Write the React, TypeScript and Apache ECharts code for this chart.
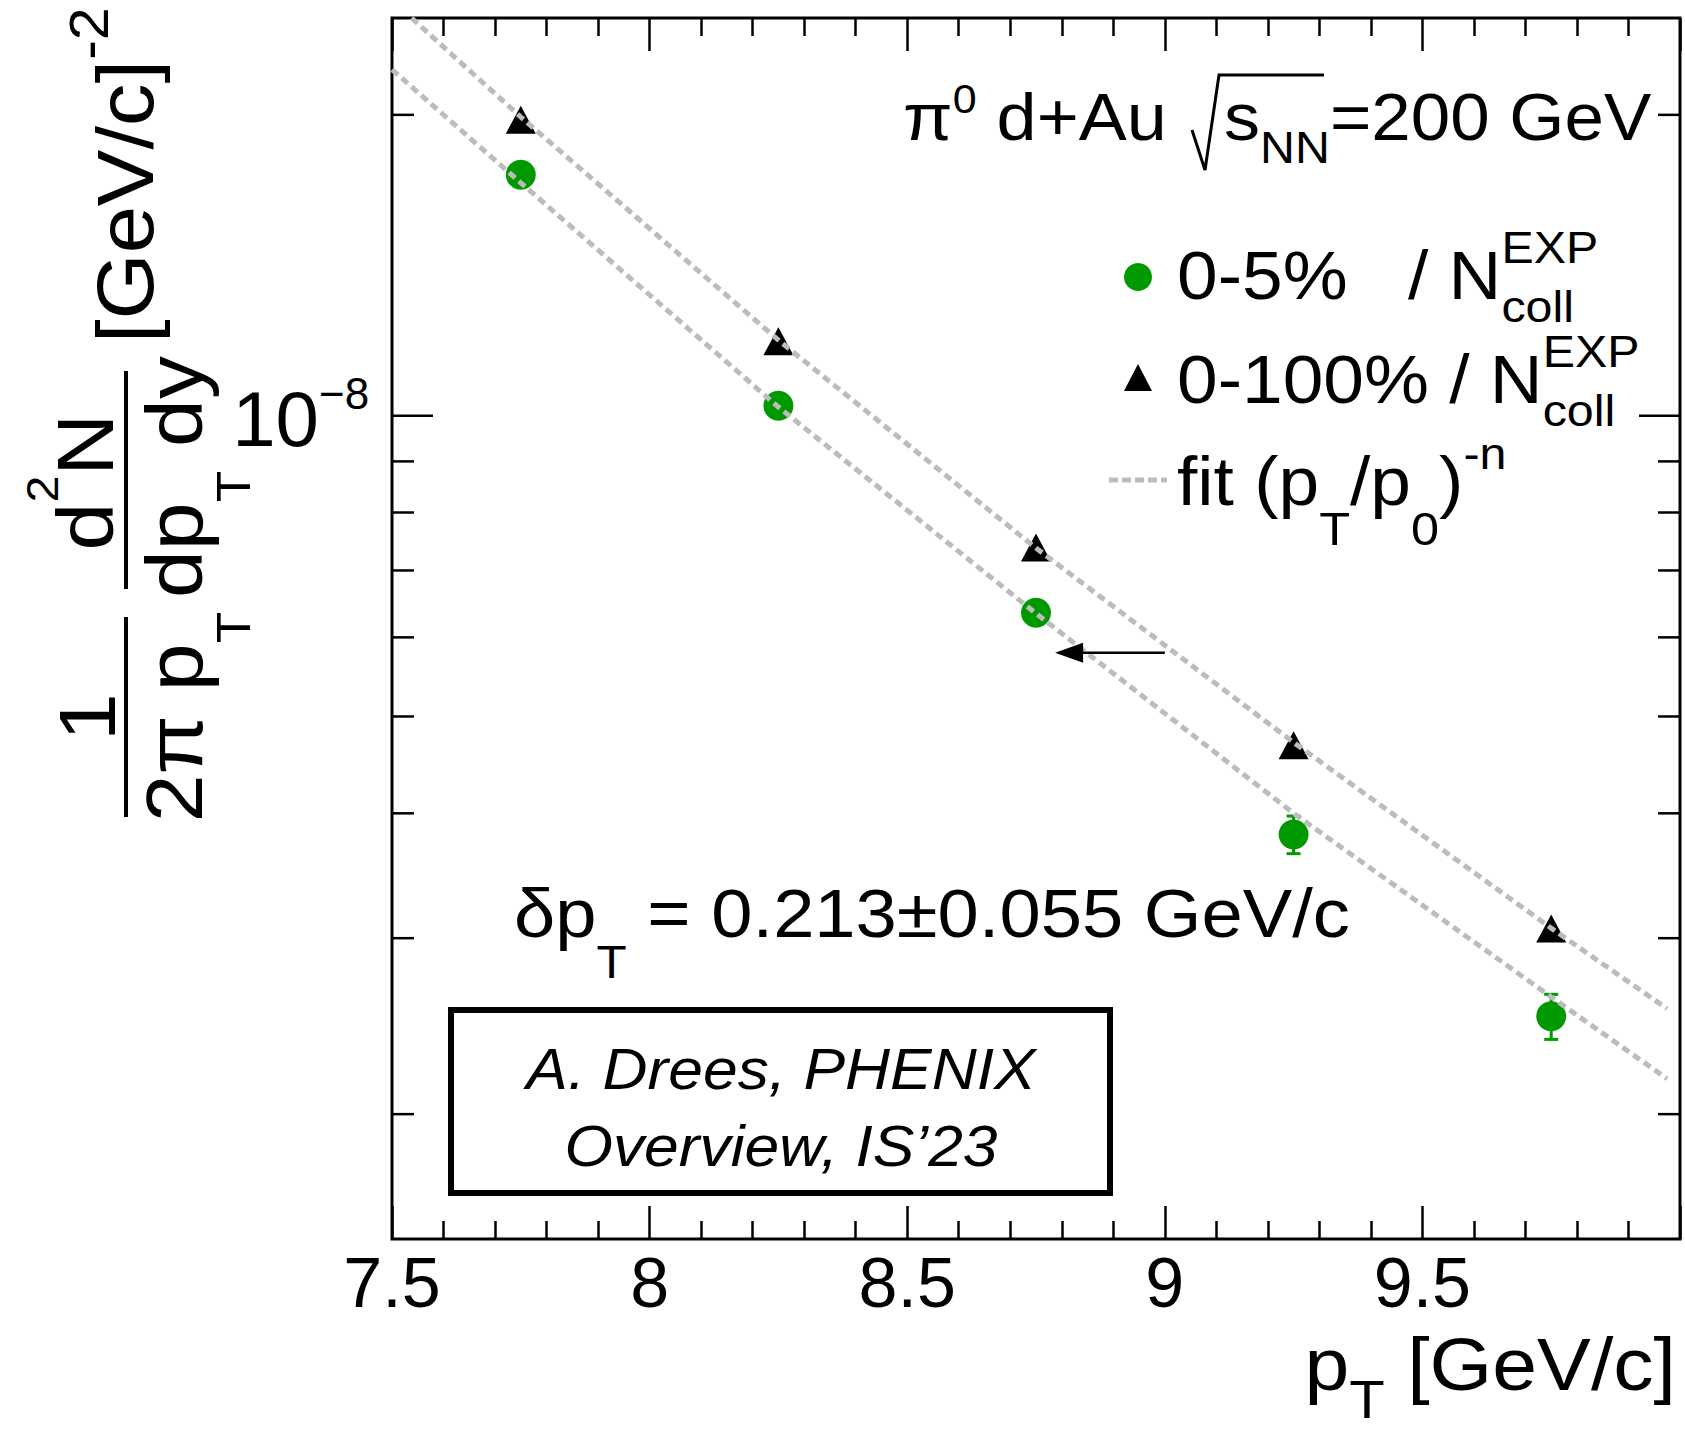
import React, { useEffect, useRef } from 'react';
import * as echarts from 'echarts';

const FONT = '"Liberation Sans", Arial, Helvetica, sans-serif';
const GREEN = '#009900';
const FIT_GRAY = '#bcbcbc';

// axes
const X_MIN = 7.5;
const X_MAX = 10;
const X_STEP = 0.5;
const Y_MIN = 1.5e-9;
const Y_MAX = 2.5e-8;
const yMajorTicks = [1e-8];
const yMinorTicks = [2e-8, 9e-9, 8e-9, 7e-9, 6e-9, 5e-9, 4e-9, 3e-9, 2e-9];

// data
const pT = [7.75, 8.25, 8.75, 9.25, 9.75];
const central = [1.742e-8, 1.023e-8, 6.35e-9, 3.81e-9, 2.506e-9]; // 0-5 %
const centralErr = [0.02e-8, 0.012e-8, 0.08e-9, 0.165e-9, 0.13e-9];
const minBias = [1.978e-8, 1.187e-8, 7.38e-9, 4.68e-9, 3.067e-9]; // 0-100 %

// fit curves
const fitMinBiasX = [7.538, 7.75, 8.25, 8.75, 9.25, 9.75, 9.975];
const fitMinBiasY = [2.5e-8, 1.99e-8, 1.19e-8, 7.37e-9, 4.71e-9, 3.07e-9, 2.55e-9];
const fitCentralX = [7.5, 7.75, 8.25, 8.75, 9.25, 9.75, 9.975];
const fitCentralY = [2.22e-8, 1.71e-8, 1.02e-8, 6.34e-9, 4.0e-9, 2.62e-9, 2.17e-9];

// shift arrow
const arrowTailX = 9.0;
const arrowTipX = 8.787;
const arrowY = 5.79e-9;

const SX = 1.075;
let _ctx: CanvasRenderingContext2D | null = null;
function tw(t: string, size: number, italic = false) {
  if (!_ctx) _ctx = document.createElement('canvas').getContext('2d');
  _ctx!.font = `${italic ? 'italic ' : ''}${size}px ${FONT}`;
  return _ctx!.measureText(t).width;
}

type Piece = { t: string; s: number; dy?: number; stack?: boolean; italic?: boolean };
function run(pieces: Piece[], x0: number, base: number, align: 'left' | 'center' | 'right' = 'left', sx = SX) {
  const pos: number[] = [];
  let x = 0;
  let stackW = 0;
  for (const p of pieces) {
    const w = tw(p.t, p.s, p.italic) * sx;
    pos.push(x);
    if (p.stack) stackW = w;
    else {
      x += Math.max(w, stackW);
      stackW = 0;
    }
  }
  const total = x;
  const start = align === 'left' ? x0 : align === 'center' ? x0 - total / 2 : x0 - total;
  return pieces.map((p, i) => {
    const trimmed = p.t.replace(/^\s+/, '');
    const lead = p.t.length - trimmed.length;
    const off = lead ? tw(p.t.slice(0, lead), p.s, p.italic) * sx : 0;
    return {
      type: 'text',
      x: start + pos[i] + off,
      y: base + (p.dy || 0) - 0.3467 * p.s,
      scaleX: sx,
      silent: true,
      z: 20,
      style: {
        text: trimmed,
        fontSize: p.s,
        fontFamily: FONT,
        fontStyle: p.italic ? 'italic' : 'normal',
        fill: '#000',
        align: 'left',
        verticalAlign: 'middle',
      },
    };
  });
}

function buildGraphic() {
  const g: any[] = [];
  // title
  g.push(...run([{ t: 'π', s: 67 }, { t: '0', s: 40, dy: -27 }, { t: ' d+Au', s: 67 }], 903, 140));
  g.push({
    type: 'polyline',
    z: 20,
    shape: { points: [[1192, 130], [1205, 170], [1219, 75], [1324, 75]] },
    style: { stroke: '#000', lineWidth: 3, fill: 'none' },
  });
  g.push(...run([{ t: 's', s: 67 }, { t: 'NN', s: 45, dy: 23 }, { t: '=200 GeV', s: 66 }], 1224, 140));

  // legend
  g.push({ type: 'circle', z: 20, shape: { cx: 1138, cy: 277, r: 14 }, style: { fill: GREEN } });
  g.push({ type: 'polygon', z: 20, shape: { points: [[1138, 364], [1124, 391], [1152, 391]] }, style: { fill: '#000' } });
  g.push({
    type: 'line', z: 20,
    shape: { x1: 1109, y1: 480, x2: 1167, y2: 480 },
    style: { stroke: FIT_GRAY, lineWidth: 5, lineDash: [9, 4] },
  });
  g.push(...run([{ t: '0-5%', s: 68 }], 1177, 299));
  g.push(...run([{ t: '/ N', s: 68 }, { t: 'EXP', s: 45, dy: -36, stack: true }, { t: 'coll', s: 45, dy: 23 }], 1408, 299));
  g.push(...run([{ t: '0-100% / N', s: 68 }, { t: 'EXP', s: 45, dy: -36, stack: true }, { t: 'coll', s: 45, dy: 23 }], 1177, 403));
  g.push(...run([
    { t: 'fit (p', s: 68 }, { t: 'T', s: 47, dy: 40 }, { t: '/p', s: 68 }, { t: '0', s: 47, dy: 40 },
    { t: ')', s: 68 }, { t: '-n', s: 45, dy: -36 },
  ], 1177, 505));

  // shift annotation
  g.push(...run([{ t: 'δp', s: 69 }, { t: 'T', s: 46, dy: 41 }, { t: ' = 0.213±0.055 GeV/c', s: 69 }], 514, 937));

  // credit box
  g.push({
    type: 'rect', z: 20,
    shape: { x: 451, y: 1010, width: 659, height: 183 },
    style: { stroke: '#000', lineWidth: 6, fill: '#fff' },
  });
  g.push(...run([{ t: 'A. Drees, PHENIX', s: 58, italic: true }], 781, 1089, 'center'));
  g.push(...run([{ t: 'Overview, IS’23', s: 58, italic: true }], 781, 1166, 'center'));

  // x axis title
  g.push(...run([{ t: 'p', s: 75 }, { t: 'T', s: 54, dy: 28 }, { t: ' [GeV/c]', s: 75 }], 1676, 1390, 'right'));

  // y axis title (rotated, local coords: x = -screenY, y = screenX)
  const yc: any[] = [];
  yc.push(...run([{ t: '1', s: 80 }], -717, 115, 'center'));
  yc.push({ type: 'line', shape: { x1: -817, y1: 126, x2: -617, y2: 126 }, style: { stroke: '#000', lineWidth: 4 } });
  yc.push(...run([{ t: '2π p', s: 80 }, { t: 'T', s: 48, dy: 48 }], -717, 202, 'center'));
  yc.push(...run([{ t: 'd', s: 80 }, { t: '2', s: 45, dy: -55 }, { t: 'N', s: 80 }], -482, 113, 'center'));
  yc.push({ type: 'line', shape: { x1: -589, y1: 126, x2: -371, y2: 126 }, style: { stroke: '#000', lineWidth: 4 } });
  yc.push(...run([{ t: 'dp', s: 80 }, { t: 'T', s: 48, dy: 48 }, { t: ' dy', s: 80 }], -477, 202, 'center'));
  yc.push(...run([{ t: '[GeV/c]', s: 79 }, { t: '-2', s: 55, dy: -45 }], -343, 153, 'left'));
  g.push({ type: 'group', x: 0, y: 0, rotation: Math.PI / 2, z: 20, children: yc });
  return g;
}

function buildOption(): any {
  const xCommon = {
    type: 'value',
    min: X_MIN,
    max: X_MAX,
    interval: X_STEP,
    axisLine: { show: false },
    axisTick: { show: true, inside: true, length: 33, lineStyle: { color: '#000', width: 2.5 } },
    minorTick: { show: true, splitNumber: 5, length: 18, lineStyle: { color: '#000', width: 2.5 } },
    splitLine: { show: false },
    minorSplitLine: { show: false },
  };
  const line = (x: number, y: number, x2: number, y2: number, stroke: string, w: number) => ({
    type: 'line', shape: { x1: x, y1: y, x2, y2 }, style: { stroke, lineWidth: w },
  });
  const fitStyle = { color: FIT_GRAY, width: 5, type: [8, 5] };
  return {
    animation: false,
    backgroundColor: '#fff',
    grid: { left: 392, right: 5, top: 18, bottom: 191, show: true, borderColor: '#000', borderWidth: 3, backgroundColor: 'transparent' },
    xAxis: [
      {
        ...xCommon,
        position: 'bottom',
        axisLabel: { show: true, fontSize: 70, fontFamily: FONT, color: '#000', margin: 9, showMaxLabel: false },
      },
      { ...xCommon, position: 'top', axisLabel: { show: false } },
    ],
    yAxis: {
      type: 'log',
      logBase: 10,
      min: Y_MIN,
      max: Y_MAX,
      axisLine: { show: false },
      axisTick: { show: false },
      axisLabel: { show: false },
      splitLine: { show: false },
    },
    graphic: buildGraphic(),
    series: [
      {
        type: 'custom',
        name: 'yTicks',
        silent: true,
        z: 10,
        clip: false,
        encode: { x: 0, y: 1 },
        data: [...yMajorTicks.map((v) => [X_MIN, v, 1]), ...yMinorTicks.map((v) => [X_MIN, v, 0])],
        renderItem: (params: any, api: any) => {
          const v = api.value(1);
          const major = api.value(2) === 1;
          const p = api.coord([X_MIN, v]);
          const cs = params.coordSys;
          const L = major ? 41 : 22;
          const y = p[1];
          const left = cs.x;
          const right = cs.x + cs.width;
          const children: any[] = [
            line(left, y, left + L, y, '#000', 2.5),
            line(right - L, y, right, y, '#000', 2.5),
          ];
          if (major) {
            const e = Math.round(Math.log10(v));
            children.push({
              type: 'text', x: left - 73, y: y + 30 - 0.3467 * 78,
              style: { text: '10', fontSize: 78, fontFamily: FONT, fill: '#000', align: 'right', verticalAlign: 'middle' },
            });
            children.push({
              type: 'text', x: left - 73, y: y - 7 - 0.3467 * 44,
              style: { text: (e < 0 ? '\u2212' : '') + Math.abs(e), fontSize: 44, fontFamily: FONT, fill: '#000', align: 'left', verticalAlign: 'middle' },
            });
          }
          return { type: 'group', children };
        },
      },
      {
        type: 'custom',
        name: 'errors',
        silent: true,
        z: 1,
        encode: { x: 0, y: [1, 2] },
        data: pT.map((x, i) => [x, central[i] - centralErr[i], central[i] + centralErr[i]]),
        renderItem: (_params: any, api: any) => {
          const x = api.value(0);
          const a = api.coord([x, api.value(1)]);
          const b = api.coord([x, api.value(2)]);
          const c = 7;
          return {
            type: 'group',
            children: [
              line(a[0], a[1], b[0], b[1], GREEN, 3),
              line(a[0] - c, a[1], a[0] + c, a[1], GREEN, 3),
              line(b[0] - c, b[1], b[0] + c, b[1], GREEN, 3),
            ],
          };
        },
      },
      {
        type: 'scatter',
        name: '0-5%',
        z: 2,
        symbol: 'circle',
        symbolSize: 30,
        itemStyle: { color: GREEN, opacity: 1 },
        data: pT.map((x, i) => [x, central[i]]),
      },
      {
        type: 'scatter',
        name: '0-100%',
        z: 2,
        symbol: 'triangle',
        symbolSize: [30, 28],
        itemStyle: { color: '#000', opacity: 1 },
        data: pT.map((x, i) => [x, minBias[i]]),
      },
      {
        type: 'line',
        name: 'fit 0-100%',
        z: 3,
        showSymbol: false,
        symbol: 'none',
        silent: true,
        lineStyle: fitStyle,
        data: fitMinBiasX.map((x, i) => [x, fitMinBiasY[i]]),
      },
      {
        type: 'line',
        name: 'fit 0-5%',
        z: 3,
        showSymbol: false,
        symbol: 'none',
        silent: true,
        lineStyle: fitStyle,
        data: fitCentralX.map((x, i) => [x, fitCentralY[i]]),
      },
      {
        type: 'custom',
        name: 'shift',
        silent: true,
        z: 4,
        encode: { x: [0, 2], y: 1 },
        data: [[arrowTailX, arrowY, arrowTipX]],
        renderItem: (_params: any, api: any) => {
          const tail = api.coord([api.value(0), api.value(1)]);
          const tip = api.coord([api.value(2), api.value(1)]);
          const head = 28;
          const hw = 10;
          return {
            type: 'group',
            children: [
              line(tail[0], tail[1], tip[0] + head * 0.7, tip[1], '#000', 2.5),
              {
                type: 'polygon',
                shape: { points: [[tip[0], tip[1]], [tip[0] + head, tip[1] - hw], [tip[0] + head, tip[1] + hw]] },
                style: { fill: '#000' },
              },
            ],
          };
        },
      },
    ],
  };
}

export default function App() {
  const ref = useRef<HTMLDivElement>(null);
  useEffect(() => {
    const chart = echarts.init(ref.current!, null, { renderer: 'svg' });
    chart.setOption(buildOption());
    return () => chart.dispose();
  }, []);
  return (
    <div
      ref={ref}
      style={{ position: 'absolute', left: 0, top: 0, width: 1685, height: 1430, background: '#fff' }}
    />
  );
}
